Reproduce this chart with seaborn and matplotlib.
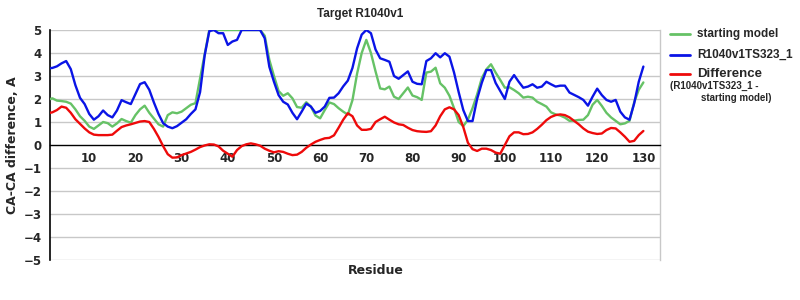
import numpy as np
import pandas as pd
import matplotlib
matplotlib.use("Agg")
import matplotlib.pyplot as plt
import seaborn as sns
from matplotlib.lines import Line2D

residues = list(range(1, 131))

starting_model = [
    1.96, 2.03, 1.93, 1.91, 1.88, 1.80, 1.55, 1.25, 1.05, 0.80,
    0.70, 0.85, 1.00, 0.95, 0.80, 0.94, 1.13, 1.04, 0.97, 1.30,
    1.55, 1.71, 1.40, 1.15, 0.90, 0.80, 1.30, 1.42, 1.38, 1.45,
    1.60, 1.75, 1.82, 2.90, 3.95, 5.00, 5.00, 5.00, 5.00, 5.00,
    5.00, 5.00, 5.00, 5.00, 5.00, 5.00, 5.00, 4.75, 3.70, 3.00,
    2.35, 2.14, 2.25, 2.03, 1.65, 1.62, 1.86, 1.67, 1.28, 1.16,
    1.52, 1.85, 1.78, 1.60, 1.45, 1.32, 1.95, 3.10, 4.00, 4.57,
    4.00, 3.20, 2.46, 2.42, 2.54, 2.10, 2.00, 2.25, 2.50, 2.15,
    2.08, 1.96, 3.15, 3.19, 3.36, 2.68, 2.49, 2.14, 1.60, 1.00,
    0.82, 1.10, 1.60, 2.20, 2.90, 3.29, 3.51, 3.15, 2.83, 2.49,
    2.51, 2.39, 2.25, 2.06, 2.10, 2.06, 1.88, 1.78, 1.67, 1.42,
    1.33, 1.28, 1.19, 1.05, 1.06, 1.09, 1.10, 1.30, 1.75, 1.96,
    1.70, 1.40, 1.20, 1.05, 0.90, 0.94, 1.05, 1.85, 2.40, 2.72,
]

model_ts323 = [
    3.33, 3.35, 3.42, 3.55, 3.65, 3.30, 2.60, 2.05, 1.78, 1.35,
    1.10, 1.25, 1.50, 1.30, 1.20, 1.50, 1.95, 1.86, 1.78, 2.22,
    2.65, 2.73, 2.40, 1.85, 1.35, 0.95, 0.80, 0.73, 0.82, 0.97,
    1.12, 1.35, 1.55, 2.30, 3.90, 4.95, 5.00, 4.86, 4.86, 4.35,
    4.50, 4.57, 5.00, 5.00, 5.00, 5.00, 5.00, 4.64, 3.40, 2.75,
    2.17, 1.88, 1.76, 1.40, 1.12, 1.45, 1.80, 1.67, 1.40, 1.48,
    1.67, 2.05, 2.06, 2.25, 2.55, 2.80, 3.35, 4.20, 4.80, 5.00,
    4.86, 4.15, 3.77, 3.70, 3.62, 3.00, 2.88, 3.04, 3.20, 2.75,
    2.66, 2.64, 3.65, 3.77, 3.99, 3.81, 3.99, 3.84, 3.15, 2.30,
    1.52, 1.04, 1.04, 2.00, 2.70, 3.26, 3.26, 2.70, 2.35, 2.00,
    2.75, 3.04, 2.75, 2.49, 2.54, 2.64, 2.49, 2.54, 2.75, 2.64,
    2.54, 2.58, 2.58, 2.28, 2.18, 2.08, 1.96, 1.71, 2.10, 2.45,
    2.17, 1.96, 1.88, 1.96, 1.45, 1.20, 1.10, 1.80, 2.75, 3.41,
]

difference = [
    1.38, 1.42, 1.52, 1.67, 1.62, 1.40, 1.12, 0.92, 0.72, 0.55,
    0.45, 0.43, 0.43, 0.43, 0.45, 0.62, 0.78, 0.85, 0.90, 0.96,
    1.02, 1.04, 1.00, 0.70, 0.35, -0.05, -0.40, -0.55, -0.54, -0.44,
    -0.37, -0.30, -0.20, -0.09, -0.02, 0.03, 0.02, -0.06, -0.25, -0.38,
    -0.51, -0.22, -0.05, 0.03, 0.07, 0.03, -0.03, -0.16, -0.25, -0.32,
    -0.27, -0.30, -0.38, -0.44, -0.42, -0.30, -0.12, 0.02, 0.14, 0.22,
    0.29, 0.31, 0.42, 0.75, 1.10, 1.38, 1.25, 0.85, 0.66, 0.66,
    0.70, 1.00, 1.12, 1.23, 1.10, 0.98, 0.90, 0.87, 0.75, 0.65,
    0.60, 0.58, 0.57, 0.60, 0.85, 1.25, 1.55, 1.64, 1.55, 1.30,
    0.78, 0.10, -0.18, -0.26, -0.16, -0.16, -0.22, -0.33, -0.38, 0.00,
    0.38, 0.55, 0.55, 0.47, 0.48, 0.55, 0.70, 0.88, 1.08, 1.22,
    1.30, 1.33, 1.30, 1.20, 1.05, 0.90, 0.72, 0.58, 0.52, 0.48,
    0.50, 0.65, 0.74, 0.72, 0.55, 0.36, 0.14, 0.18, 0.43, 0.61,
]

x_ticks = [10, 20, 30, 40, 50, 60, 70, 80, 90, 100, 110, 120, 130]
y_ticks = [-5, -4, -3, -2, -1, 0, 1, 2, 3, 4, 5]

series_names = ["starting model", "R1040v1TS323_1", "Difference"]
colors = {"starting model": "#66c266", "R1040v1TS323_1": "#0a14e6", "Difference": "#ee0a0a"}

df = pd.DataFrame({
    "Residue": residues * 3,
    "value": starting_model + model_ts323 + difference,
    "series": ["starting model"] * 130 + ["R1040v1TS323_1"] * 130 + ["Difference"] * 130,
})

sns.set_style("white")
plt.rcParams["font.family"] = ["DejaVu Sans"]

fig = plt.figure(figsize=(8, 3), dpi=100)
ax = fig.add_axes([50 / 800, 40 / 300, 610 / 800, 230 / 300])

# gridlines
for yv in y_ticks:
    if yv != 0:
        ax.axhline(yv, color="#c8c8c8", lw=1.0, zorder=0)

sns.lineplot(data=df, x="Residue", y="value", hue="series", hue_order=series_names,
             palette=colors, ax=ax, legend=False, linewidth=1.7, zorder=3)

ax.set_xlim(1.5, 133.6)
ax.set_ylim(-5, 5)
ax.set_xticks(x_ticks)
ax.set_yticks(y_ticks)
ax.set_yticklabels([str(v).replace("-", "\u2212") for v in y_ticks])

ax.spines["bottom"].set_position(("data", 0))
ax.spines["bottom"].set_color("black")
ax.spines["bottom"].set_linewidth(1.0)
ax.spines["left"].set_color("black")
ax.spines["left"].set_linewidth(1.2)
ax.spines["top"].set_visible(False)
ax.spines["right"].set_color("#c8c8c8")
ax.spines["right"].set_linewidth(1.0)

ax.tick_params(axis="x", direction="out", length=3, width=0.8, color="#999999",
               labelsize=8.5, pad=2)
ax.tick_params(axis="y", length=0, labelsize=8.5, pad=6)
for lab in ax.get_xticklabels() + ax.get_yticklabels():
    lab.set_fontweight("bold")

ax.set_xlabel("Residue", fontsize=9, fontweight="bold")
ax.xaxis.set_label_coords(0.534, -0.018)
ax.set_ylabel("CA-CA difference, A", fontsize=9, fontweight="bold")
ax.yaxis.set_label_coords(-0.051, 0.5)

fig.text(360 / 800, 1 - 14 / 300, "Target R1040v1", ha="center", va="center",
         fontsize=8.5, fontweight="bold", family="Liberation Sans")

# legend (manual, outside right)
leg_items = [("starting model", 34, 8.5), ("R1040v1TS323_1", 55, 8.5), ("Difference", 74, 9.5)]
for name, ypix, fs in leg_items:
    yf = 1 - ypix / 300
    fig.add_artist(Line2D([670 / 800, 690 / 800], [yf, yf], color=colors[name], lw=2.0,
                          transform=fig.transFigure))
    fig.text(697 / 800, yf, name, ha="left", va="center", fontsize=fs,
             fontweight="bold", family="Liberation Sans")
fig.text(670 / 800, 1 - 86 / 300, "(R1040v1TS323_1 -", ha="left", va="center",
         fontsize=7, fontweight="bold", family="Liberation Sans")
fig.text(701 / 800, 1 - 98 / 300, "starting model)", ha="left", va="center",
         fontsize=7, fontweight="bold", family="Liberation Sans")

fig.savefig("out.png", dpi=100)
